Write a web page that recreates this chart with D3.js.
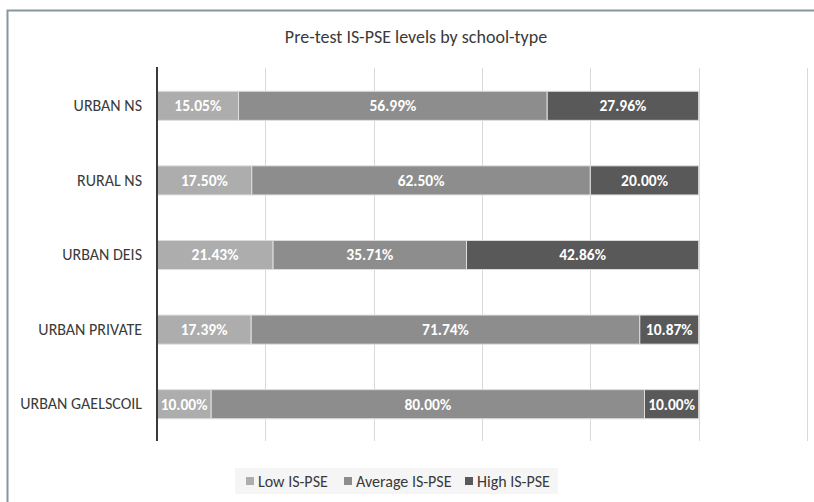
<!DOCTYPE html>
<html>
<head>
<meta charset="utf-8">
<script src="https://cdn.jsdelivr.net/npm/d3@7"></script>
<style>
  html, body { margin: 0; padding: 0; background: #ffffff; }
  svg { display: block; font-family: Carlito, Calibri, Lato, "Open Sans", sans-serif; }
</style>
</head>
<body>
<svg id="chart" width="814" height="502"></svg>
<script>
// School types, top to bottom
const categories = ["URBAN NS", "RURAL NS", "URBAN DEIS", "URBAN PRIVATE", "URBAN GAELSCOIL"];
// Series (percent of pupils per school type)
const seriesNames = ["Low IS-PSE", "Average IS-PSE", "High IS-PSE"];
const lowValues = [15.05, 17.50, 21.43, 17.39, 10.00];
const averageValues = [56.99, 62.50, 35.71, 71.74, 80.00];
const highValues = [27.96, 20.00, 42.86, 10.87, 10.00];
const xTicks = [0, 20, 40, 60, 80, 100, 120];
const seriesColors = ["#adadad", "#8d8d8d", "#595959"];

const title = "Pre-test IS-PSE levels by school-type";
const fontStack = "Carlito, Calibri, Lato, 'Open Sans', sans-serif";

const svg = d3.select("#chart");

// Outer chart frame
svg.append("rect")
  .attr("x", 7.5).attr("y", 10.5)
  .attr("width", 830).attr("height", 520)
  .attr("fill", "#ffffff")
  .attr("stroke", "#8797a0")
  .attr("stroke-width", 2);

const x = d3.scaleLinear().domain([0, 120]).range([157, 807]);
const y = d3.scaleBand().domain(categories).range([68.5, 441.5]).paddingInner(0.61).paddingOuter(0.305);

// Title
svg.append("text")
  .attr("x", 416).attr("y", 43)
  .attr("text-anchor", "middle")
  .attr("font-size", 18)
  .attr("fill", "#3a3a3a")
  .text(title);

// Vertical gridlines
svg.append("g")
  .selectAll("line")
  .data(xTicks.slice(1))
  .join("line")
  .attr("x1", d => Math.round(x(d)) + 0.5)
  .attr("x2", d => Math.round(x(d)) + 0.5)
  .attr("y1", 68).attr("y2", 441)
  .attr("stroke", "#d9d9d9")
  .attr("stroke-width", 1);

// Stack the series
const rows = categories.map((c, i) => ({
  category: c,
  "Low IS-PSE": lowValues[i],
  "Average IS-PSE": averageValues[i],
  "High IS-PSE": highValues[i]
}));
const stacked = d3.stack().keys(seriesNames)(rows);

const layers = svg.append("g")
  .selectAll("g")
  .data(stacked)
  .join("g")
  .attr("fill", (d, i) => seriesColors[i]);

layers.selectAll("rect")
  .data(d => d)
  .join("rect")
  .attr("x", d => x(d[0]))
  .attr("y", d => y(d.data.category))
  .attr("width", d => x(d[1]) - x(d[0]))
  .attr("height", y.bandwidth())
  .attr("stroke", "#dedede")
  .attr("stroke-width", 1);

// Value labels inside segments
layers.selectAll("text")
  .data(d => d.map(s => ({ s, key: d.key })))
  .join("text")
  .attr("x", d => (x(d.s[0]) + x(d.s[1])) / 2)
  .attr("y", d => y(d.s.data.category) + y.bandwidth() / 2)
  .attr("dy", "0.35em")
  .attr("text-anchor", "middle")
  .attr("font-size", 15.5)
  .attr("font-weight", "bold")
  .attr("fill", "#ffffff")
  .text(d => d.s.data[d.key].toFixed(2) + "%");

// Category axis
const yAxis = svg.append("g")
  .attr("transform", `translate(${x(0)},0)`)
  .call(d3.axisLeft(y).tickSize(0).tickPadding(15));
yAxis.select(".domain").remove();
yAxis.attr("font-size", null).attr("font-family", null);
yAxis.selectAll("text")
  .attr("font-size", 16)
  .attr("font-family", fontStack)
  .attr("fill", "#3a3a3a");

svg.append("line")
  .attr("x1", x(0)).attr("x2", x(0))
  .attr("y1", 67).attr("y2", 441)
  .attr("stroke", "#3a3a3a")
  .attr("stroke-width", 2);

// Legend
const legend = svg.append("g");
legend.append("rect")
  .attr("x", 235).attr("y", 468)
  .attr("width", 323).attr("height", 26)
  .attr("fill", "#f5f5f5");
const legendX = [246, 344, 465];
const items = legend.selectAll("g")
  .data(seriesNames)
  .join("g")
  .attr("transform", (d, i) => `translate(${legendX[i]},481)`);
items.append("rect")
  .attr("x", 0).attr("y", -4)
  .attr("width", 8).attr("height", 8)
  .attr("fill", (d, i) => seriesColors[i]);
items.append("text")
  .attr("x", 12).attr("dy", "0.35em")
  .attr("font-size", 16)
  .attr("fill", "#3a3a3a")
  .text(d => d);
</script>
</body>
</html>
